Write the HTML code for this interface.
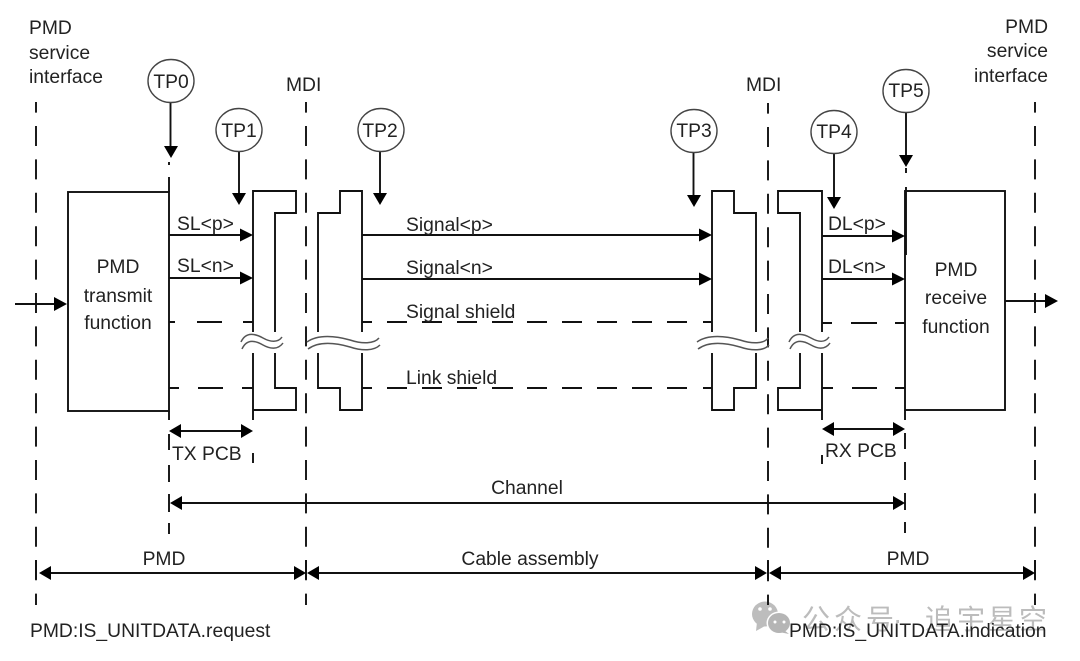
<!DOCTYPE html>
<html><head><meta charset="utf-8"><style>
html,body{margin:0;padding:0;background:#fff}
svg{display:block}
text{font-family:"Liberation Sans",Arial,sans-serif;font-size:19.3px;fill:#222}
.wm{font-family:"Liberation Sans","Noto Sans CJK SC",sans-serif;font-size:28px;fill:#bcbcbc}
.l{stroke:#111;stroke-width:1.9;fill:none}
.d{stroke:#111;stroke-width:1.9;fill:none;stroke-dasharray:20 13.4;stroke-dashoffset:9.4}
.c{stroke:#444;stroke-width:1.4;fill:#fff}
.w{stroke:#555;stroke-width:1.5;fill:none}
.a{fill:#000}
</style></head><body>
<svg width="1080" height="661" viewBox="0 0 1080 661" xmlns="http://www.w3.org/2000/svg">
<!-- watermark -->
<ellipse cx="765" cy="614" rx="13" ry="12.500" fill="#bdbdbd"/><path d="M757 622l-1 9 9-5z" fill="#bdbdbd"/>
<ellipse cx="779" cy="623" rx="12.500" ry="11.500" fill="#fff"/><ellipse cx="779" cy="623" rx="11" ry="10" fill="#b5b5b5"/><path d="M784 630l5 4-10-2z" fill="#b5b5b5"/>
<g fill="#fff"><circle cx="760" cy="609" r="1.800"/><circle cx="770" cy="609" r="1.800"/><circle cx="775" cy="622" r="1.500"/><circle cx="784" cy="622" r="1.500"/></g>
<text class="wm" x="802" y="629">公</text><text class="wm" x="834" y="629">众</text><text class="wm" x="866" y="629">号</text><text class="wm" x="893" y="629">·</text><text class="wm" x="925" y="629">追</text><text class="wm" x="957" y="629">宇</text><text class="wm" x="988" y="629">星</text><text class="wm" x="1019" y="629">空</text>

<!-- long dashed verticals -->
<path class="d" d="M36 102V605"/><path class="d" d="M306 102V605"/><path class="d" d="M768 103V605"/><path class="d" d="M1035 102V605"/>
<!-- short verticals -->
<path class="l" d="M169 162V165M169 177V192M169 411V420M169 434V450M169 465V482M169 494V512M169 523V534"/>
<path class="l" d="M253 410V420M253 453V463M822 410V420M822 455V464"/>
<path class="l" d="M906 168V173M906 187V255M905 410V420M905 433V449M905 462V480M905 493V510M905 522V533"/>
<path class="l" d="M36 560V579M306 560V579M768 560V579M1035 560V579"/>

<!-- boxes -->
<rect class="l" x="68" y="192" width="101" height="219"/>
<rect class="l" x="905" y="191" width="100" height="219"/>

<!-- connectors -->
<path class="l" d="M253 410V191H296V213H275V388H296V410H253"/>
<path class="l" d="M318 213H340V191H362V410H340V388H318Z"/>
<path class="l" d="M712 410V191H734V213H756V388H734V410Z"/>
<path class="l" d="M822 410V191H778V213H800V388H778V410H822"/>

<!-- signal lines -->
<path class="l" d="M169 235H241M169 278H241M362 235H700M362 279H700M822 236H893M822 279H893"/>
<path class="l" d="M169 322H175M197 322H222M243 322H253M362 322H372M387 322H407M422 322H442M457 322H477M492 322H513M527 322H547M562 322H582M597 322H617M632 322H652M667 322H687M703 322H712M822 323H832M851 323H877M895 323H905"/>
<path class="l" d="M169 388H179M198 388H223M242 388H253M362 388H372M387 388H407M422 388H442M457 388H477M492 388H513M527 388H547M562 388H582M597 388H617M632 388H652M667 388H687M703 388H712M822 388H833M852 388H877M895 388H905"/>
<path class="a" d="M240 228.500l13 6.500-13 6.500zM240 271.500l13 6.500-13 6.500zM699 228.500l13 6.500-13 6.500zM699 272.500l13 6.500-13 6.500zM892 229.500l13 6.500-13 6.500zM892 272.500l13 6.500-13 6.500z"/>

<!-- breaks -->
<g fill="#fff"><rect x="240" y="332" width="45" height="21"/><rect x="309" y="332" width="70" height="21"/><rect x="698" y="332" width="68" height="21"/><rect x="790" y="332" width="40" height="21"/></g>
<g class="w">
<path d="M241 342C246 331 256 334 263 338C270 342 278 343 282 337"/>
<path d="M242 349C247 338 256 341 263 345C270 349 278 350 283 343"/>
<path d="M307 342C318 334 336 336 350 340C362 344 374 344 379 338"/>
<path d="M308 349C319 341 336 343 350 347C362 351 374 351 380 345"/>
<path d="M697 342C708 334 726 336 740 340C752 344 764 344 768 338"/>
<path d="M698 349C709 341 726 343 740 347C752 351 764 351 769 345"/>
<path d="M789 342C794 331 804 334 811 338C818 342 825 343 829 337"/>
<path d="M790 349C795 338 804 341 811 345C818 349 825 350 830 343"/>
</g>

<!-- TP circles -->
<path class="l" d="M170.500 103V148M239 151V195M380 151V195M693.500 152V197M834 153V199M906 113V157"/>
<path class="a" d="M164 146h14l-7 12zM232 193h14l-7 12zM373 193h14l-7 12zM687 195h14l-7 12zM827 197h14l-7 12zM899 155h14l-7 12z"/>
<ellipse class="c" cx="171" cy="81" rx="23" ry="21.500"/>
<ellipse class="c" cx="239" cy="130" rx="23" ry="21.500"/>
<ellipse class="c" cx="381" cy="130" rx="23" ry="21.500"/>
<ellipse class="c" cx="694" cy="131" rx="23" ry="21.500"/>
<ellipse class="c" cx="834" cy="132" rx="23" ry="21.500"/>
<ellipse class="c" cx="906" cy="91" rx="23" ry="21.500"/>

<!-- IO arrows -->
<path class="l" d="M15 304H56M1005 301H1047"/>
<path class="a" d="M54 297l13 7-13 7zM1045 294l13 7-13 7z"/>

<!-- dimension arrows -->
<path class="l" d="M178 431H244M831 429H896M180 503H895M48 573H296M317 573H757M779 573H1025"/>
<path class="a" d="M169 431l12-7v14zM253 431l-12-7v14zM822 429l12-7v14zM905 429l-12-7v14zM170 503l12-7v14zM905 503l-12-7v14zM39 573l12-7v14zM306 573l-12-7v14zM307 573l12-7v14zM767 573l-12-7v14zM769 573l12-7v14zM1035 573l-12-7v14z"/>

<!-- labels -->
<text x="29" y="34">PMD</text><text x="29" y="59">service</text><text x="29" y="83">interface</text>
<g text-anchor="end"><text x="1048" y="33">PMD</text><text x="1048" y="57">service</text><text x="1048" y="82">interface</text></g>
<text x="286" y="91">MDI</text><text x="746" y="91">MDI</text>
<g text-anchor="middle">
<text x="171" y="88">TP0</text><text x="239" y="137">TP1</text><text x="380" y="137">TP2</text><text x="694" y="137">TP3</text><text x="834" y="138">TP4</text><text x="906" y="97">TP5</text>
<text x="118" y="273">PMD</text><text x="118" y="302">transmit</text><text x="118" y="329">function</text>
<text x="956" y="276">PMD</text><text x="956" y="304">receive</text><text x="956" y="333">function</text>
<text x="527" y="494">Channel</text>
<text x="164" y="565">PMD</text><text x="530" y="565">Cable assembly</text><text x="908" y="565">PMD</text>
</g>
<text x="177" y="230">SL&lt;p&gt;</text><text x="177" y="272">SL&lt;n&gt;</text>
<text x="406" y="231">Signal&lt;p&gt;</text><text x="406" y="274">Signal&lt;n&gt;</text><text x="406" y="318">Signal shield</text><text x="406" y="384">Link shield</text>
<text x="828" y="230">DL&lt;p&gt;</text><text x="828" y="273">DL&lt;n&gt;</text>
<text x="172" y="460">TX PCB</text><text x="825" y="457">RX PCB</text>
<text x="30" y="637">PMD:IS_UNITDATA.request</text>
<text x="789" y="637">PMD:IS_UNITDATA.indication</text>
</svg>
</body></html>
